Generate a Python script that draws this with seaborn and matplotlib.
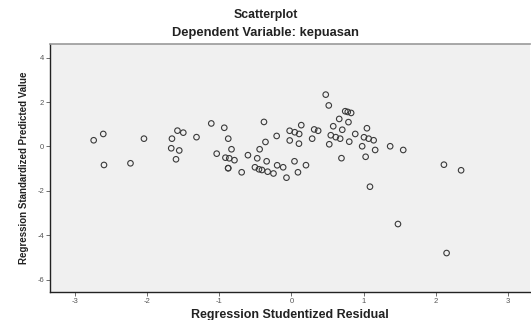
import numpy as np
import pandas as pd
import matplotlib
matplotlib.use("Agg")
import matplotlib.pyplot as plt
import seaborn as sns

# Residual (x) vs predicted value (y)
residual = [
    -2.741, -2.608, -2.598, -2.231, -2.044, -1.656, -1.580, -1.499, -1.666, -1.555,
    -1.600, -1.316, -1.111, -0.931, -0.876, -1.036, -0.915, -0.862, -0.790, -0.831,
    -0.877, -0.877, -0.690, -0.603, -0.474, -0.441, -0.381, -0.360, -0.344, -0.506,
    -0.450, -0.409, -0.330, -0.249, -0.205, -0.198, -0.115, -0.069, -0.025, 0.046,
    0.107, 0.136, -0.024, 0.104, 0.042, 0.090, 0.201, 0.287, 0.315, 0.370,
    0.475, 0.517, 0.745, 0.780, 0.827, 0.662, 0.790, 0.579, 0.704, 0.545,
    0.614, 0.675, 0.524, 0.801, 0.693, 0.884, 1.046, 1.005, 1.070, 1.139,
    0.980, 1.028, 1.160, 1.368, 1.549, 1.088, 2.113, 2.351, 1.476, 2.150,
]
predicted = [
    0.279, 0.563, -0.833, -0.757, 0.351, 0.351, 0.712, 0.622, -0.081, -0.180,
    -0.577, 0.419, 1.036, 0.842, 0.351, -0.324, -0.505, -0.532, -0.617, -0.126,
    -0.977, -0.977, -1.162, -0.392, -0.532, -0.126, 1.104, 0.203, -0.667, -0.937,
    -1.027, -1.059, -1.135, -1.216, 0.473, -0.847, -0.937, -1.405, 0.707, 0.640,
    0.563, 0.959, 0.270, 0.126, -0.667, -1.162, -0.842, 0.351, 0.766, 0.707,
    2.333, 1.847, 1.586, 1.554, 1.509, 1.239, 1.095, 0.910, 0.752, 0.505,
    0.419, 0.351, 0.099, 0.216, -0.527, 0.563, 0.820, 0.414, 0.351, 0.279,
    0.009, -0.464, -0.158, 0.009, -0.158, -1.811, -0.820, -1.072, -3.491, -4.797,
]
x_ticks = [-3, -2, -1, 0, 1, 2, 3]
y_ticks = [4, 2, 0, -2, -4, -6]

df = pd.DataFrame({"residual": residual, "predicted": predicted})

sns.set_style("white")
plt.rcParams["font.family"] = ["Liberation Sans", "DejaVu Sans"]
plt.rcParams["axes.unicode_minus"] = False

fig = plt.figure(figsize=(5.31, 3.2), dpi=100)
ax = fig.add_axes([0.095, 0.0875, 0.903, 0.7735])
ax.set_facecolor("#f0f0f0")

sns.scatterplot(data=df, x="residual", y="predicted", ax=ax, marker="o",
                s=16, facecolor="none", edgecolor="#3a3a3a", linewidth=0.8)

ax.set_xlim(-3.34, 3.305)
ax.set_ylim(-6.55, 4.59)
ax.set_xticks(x_ticks)
ax.set_yticks(y_ticks)
ax.tick_params(axis="both", labelsize=5.5, labelcolor="#555555", color="#555555",
               length=3, width=0.6, direction="out", left=True, bottom=True, pad=1.5)

ax.spines["left"].set_color("#222222")
ax.spines["bottom"].set_color("#222222")
ax.spines["left"].set_linewidth(1.0)
ax.spines["bottom"].set_linewidth(1.0)
ax.spines["top"].set_color("#999999")
ax.spines["top"].set_linewidth(1.2)
ax.spines["right"].set_visible(False)

ax.set_xlabel("Regression Studentized Residual", fontsize=9.0, fontweight="bold",
              color="#222222", labelpad=3)
ax.set_ylabel("Regression Standardized Predicted Value", fontsize=7.0,
              fontweight="bold", color="#222222", labelpad=6)

fig.text(0.5, 0.953, "Scatterplot", ha="center", va="center", fontsize=8.8,
         fontweight="bold", color="#222222")
fig.text(0.5, 0.897, "Dependent Variable: kepuasan", ha="center", va="center",
         fontsize=9.3, fontweight="bold", color="#222222")

fig.savefig("out.png", dpi=100)
